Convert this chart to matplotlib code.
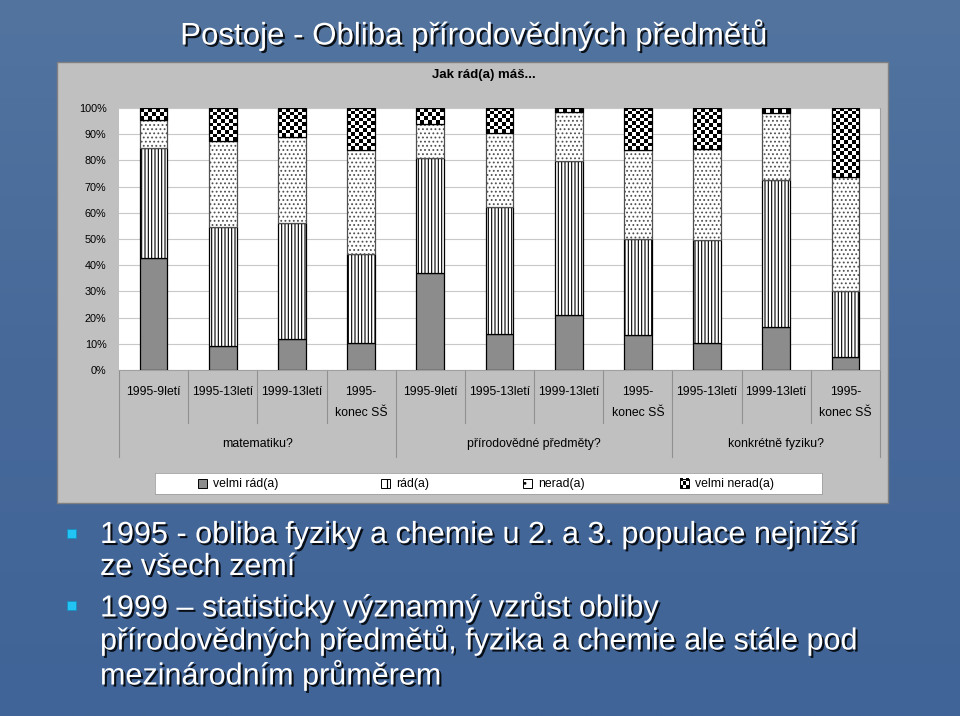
import numpy as np
import matplotlib
matplotlib.use('Agg')
import matplotlib.pyplot as plt
import matplotlib.patheffects as pe
from matplotlib.patches import Rectangle

# data (percent of pupils)
categories = ['1995-9letí', '1995-13letí', '1999-13letí', '1995-\nkonec SŠ',
              '1995-9letí', '1995-13letí', '1999-13letí', '1995-\nkonec SŠ',
              '1995-13letí', '1999-13letí', '1995-\nkonec SŠ']
groups = ['matematiku?', 'přírodovědné předměty?', 'konkrétně fyziku?']
group_sizes = [4, 4, 3]
series_names = ['velmi rád(a)', 'rád(a)', 'nerad(a)', 'velmi nerad(a)']
velmi_rad = [42.7, 9.2, 12.0, 10.3, 37.2, 13.8, 20.9, 13.2, 10.3, 16.4, 5.0]
rad = [42.0, 45.2, 44.1, 33.9, 43.6, 48.5, 59.0, 36.7, 39.3, 56.1, 25.3]
nerad = [10.8, 33.1, 32.9, 39.7, 13.1, 28.0, 18.7, 34.0, 34.9, 25.5, 43.3]
velmi_nerad = [4.5, 12.5, 11.0, 16.1, 6.1, 9.7, 1.4, 16.1, 15.5, 2.0, 26.4]
yticks = [0, 10, 20, 30, 40, 50, 60, 70, 80, 90, 100]

slide_title = 'Postoje - Obliba přírodovědných předmětů'
chart_title = 'Jak rád(a) máš...'
bullets = [('1995 - obliba fyziky a chemie u 2. a 3. populace nejnižší', 'ze všech zemí'),
           ('1999 – statisticky významný vzrůst obliby',
            'přírodovědných předmětů, fyzika a chemie ale stále pod',
            'mezinárodním průměrem')]

W, H = 960, 716
plt.rcParams['font.family'] = ['Liberation Sans', 'DejaVu Sans']
plt.rcParams['hatch.linewidth'] = 0.8


def fx(x):
    return x / W


def fy(y):
    return 1 - y / H


fig = plt.figure(figsize=(9.6, 7.16), dpi=100)

# slide background
bg = fig.add_axes([0, 0, 1, 1])
grad = np.linspace(0, 1, 256).reshape(-1, 1)
bg.imshow(grad, cmap=matplotlib.colors.LinearSegmentedColormap.from_list(
    'b', ['#52749f', '#47699a', '#406497']), aspect='auto', extent=[0, 1, 0, 1])
bg.set_xlim(0, 1)
bg.set_ylim(0, 1)
bg.axis('off')

shadow = [pe.withSimplePatchShadow(offset=(1.5, -1.5), shadow_rgbFace='black', alpha=0.85)]
fig.text(fx(474), fy(35), slide_title, ha='center', va='center', color='white',
         fontsize=22.5, path_effects=shadow)

# chart panel
fig.patches.append(Rectangle((fx(57), fy(503)), fx(888) - fx(57), fy(62) - fy(503),
                             transform=fig.transFigure, facecolor='#c0c0c0',
                             edgecolor='#808080', lw=1, zorder=1))
fig.text(fx(484), fy(75), chart_title, ha='center', va='center', fontsize=9.5,
         fontweight='bold', zorder=3)

ax = fig.add_axes([fx(119), fy(370), fx(880) - fx(119), fy(108) - fy(370)])
ax.set_zorder(2)
ax.set_facecolor('white')
x = np.arange(len(categories))
w = 0.4
bottom = np.zeros(len(x))
ax.bar(x, velmi_rad, w, bottom=bottom, color='#8c8c8c', edgecolor='black', lw=0.9, zorder=3)
bottom += velmi_rad
ax.bar(x, rad, w, bottom=bottom, color='white', edgecolor='black', hatch='|||||', lw=0.9, zorder=3)
bottom += rad
ax.bar(x, nerad, w, bottom=bottom, color='white', edgecolor='#505050', hatch='....', lw=0.9, zorder=3)
bottom += nerad
# checker pattern for "velmi nerad(a)"
for xi, b, h in zip(x, bottom, velmi_nerad):
    ny = max(1, int(round(h / 1.4)))
    img = np.add.outer(np.arange(ny), np.arange(7)) % 2
    ax.imshow(img, cmap='gray', extent=[xi - w / 2, xi + w / 2, b, b + h], aspect='auto',
              interpolation='nearest', zorder=3)
ax.bar(x, velmi_nerad, w, bottom=bottom, facecolor='none', edgecolor='black', lw=0.9, zorder=4)

ax.set_xlim(-0.5, len(x) - 0.5)
ax.set_ylim(0, 100)
ax.set_yticks(yticks)
ax.set_yticklabels(['%d%%' % t for t in yticks], fontsize=7.8)
ax.tick_params(axis='y', length=0, pad=9)
ax.set_xticks([])
ax.grid(axis='y', color='#c8c8c8', lw=0.8, zorder=0)
ax.set_axisbelow(True)
for s in ['top', 'left']:
    ax.spines[s].set_visible(False)
ax.spines['right'].set_color('#a0a0a0')
ax.spines['bottom'].set_color('#a0a0a0')

# multi-level category axis
tr = ax.get_xaxis_transform()
for xi, lab in zip(x, categories):
    ax.text(xi, -0.062, lab, transform=tr, ha='center', va='top', fontsize=8.8,
            linespacing=1.95, clip_on=False)
start = 0
edges = [-0.5]
for g, n in zip(groups, group_sizes):
    ax.text(start + (n - 1) / 2, -0.282, g, transform=tr, ha='center', va='center',
            fontsize=8.8, clip_on=False)
    for k in range(1, n):
        ax.plot([start + k - 0.5] * 2, [0, -0.202], transform=tr, color='#909090',
                lw=0.8, clip_on=False)
    start += n
    edges.append(start - 0.5)
for e in edges:
    ax.plot([e, e], [0, -0.332], transform=tr, color='#909090', lw=0.8, clip_on=False)

# legend
lg = fig.add_axes([fx(155), fy(494), fx(822) - fx(155), fy(473) - fy(494)])
lg.set_zorder(2)
for s in lg.spines.values():
    s.set_color('#a0a0a0')
    s.set_linewidth(0.6)
pos = [47, 230, 372, 529]
styles = [dict(facecolor='#8c8c8c'), dict(facecolor='white', hatch='||'),
          dict(facecolor='white', hatch='..'), dict(facecolor='none')]
for p, name, st in zip(pos, series_names, styles):
    if name == series_names[-1]:
        lg.imshow(np.add.outer(np.arange(3), np.arange(3)) % 2, cmap='gray',
                  extent=[p - 4.5, p + 4.5, 6, 15], aspect='auto', interpolation='nearest')
    lg.add_patch(Rectangle((p - 4.5, 6), 9, 9, edgecolor='black', lw=0.7, **st))
    lg.text(p + 11, 10.5, name, ha='left', va='center', fontsize=8.8)
lg.set_xlim(0, 667)
lg.set_ylim(0, 21)
lg.set_xticks([])
lg.set_yticks([])

# bullets
line_y = [[535, 567], [607, 640, 675]]
for lines, ys in zip(bullets, line_y):
    fig.patches.append(Rectangle((fx(67), fy(ys[0] - 2) - 4.5 / H), fx(9), 9 / H,
                                 transform=fig.transFigure,
                                 facecolor='#22c4f4', edgecolor='#1590c0', lw=0.6))
    for t, yy in zip(lines, ys):
        fig.text(fx(100), fy(yy), t, ha='left', va='center', color='white',
                 fontsize=22, path_effects=shadow)

fig.savefig('out.png', dpi=100)
